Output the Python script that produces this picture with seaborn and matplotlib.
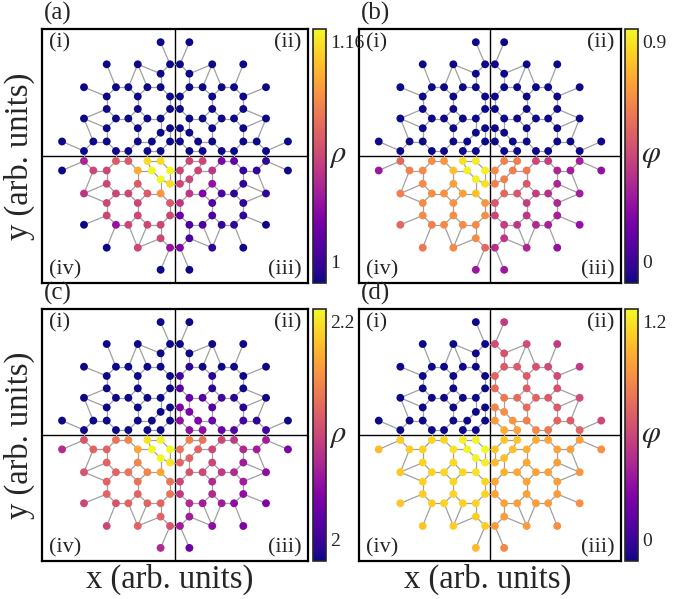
import numpy as np
import pandas as pd
import matplotlib
matplotlib.use('Agg')
import matplotlib.pyplot as plt
from matplotlib.collections import LineCollection
from matplotlib.colors import Normalize
import seaborn as sns

# node layout of one quadrant (arb. units), mirrored into the four quadrants
nodes = ['A',
         'B', 'C', 'D',
         'E',
         'F', 'G', 'H', 'I', 'J',
         'K', 'L', 'M',
         'N', 'O', 'P',
         'Q', 'R', 'S', 'T', 'U',
         'V', 'W', 'X',
         'Y',
         'Z1', 'Z2', 'Z3', 'Z4', 'Z5', 'Z6',
         'BB1', 'BB2', 'BB3', 'BB4', 'BB5']
node_x = [14.5,
          68.8, 37.5, 5,
          14.5,
          91.7, 59.5, 47, 27.8, 14.5,
          68.8, 37.5, 5,
          68.8, 37.5, 5,
          91.7, 59.5, 47, 27.8, 14.5,
          68.8, 37.5, 5,
          14.5,
          113.8, 82.3, 68.8, 37.5, 23.3, 5,
          91.7, 59.5, 47, 27.8, 14.5]
node_y = [113.8,
          91.7, 91.7, 91.7,
          82.3,
          68.8, 68.8, 68.8, 68.8, 68.8,
          59.5, 59.5, 59.5,
          47, 47, 47,
          37.5, 37.5, 37.5, 37.5, 37.5,
          27.8, 27.8, 27.8,
          23.3,
          14.5, 14.5, 14.5, 14.5, 14.5, 14.5,
          5, 5, 5, 5, 5]

edges = [('A', 'D'), ('B', 'G'), ('F', 'K'), ('Z1', 'BB1'),
         ('C', 'H'), ('C', 'I'), ('C', 'E'), ('D', 'E'), ('E', 'J'),
         ('Q', 'N'), ('Q', 'V'), ('Q', 'Z2'), ('BB1', 'Z2'), ('Z2', 'Z3'),
         ('G', 'H'), ('H', 'L'), ('L', 'O'), ('O', 'S'), ('S', 'R'), ('R', 'N'), ('N', 'K'), ('K', 'G'),
         ('I', 'J'), ('J', 'M'), ('M', 'P'), ('P', 'U'), ('U', 'T'), ('T', 'O'), ('L', 'I'),
         ('S', 'W'), ('W', 'Z4'), ('Z4', 'BB3'), ('BB3', 'BB2'), ('BB2', 'Z3'), ('Z3', 'V'), ('V', 'R'),
         ('U', 'Y'), ('Y', 'X'), ('X', 'Z6'), ('Z6', 'BB5'), ('BB5', 'BB4'), ('BB4', 'Z5'),
         ('Z5', 'Z4'), ('W', 'T'), ('Y', 'Z5')]
cross_h = ['D', 'M', 'P', 'X', 'Z6']          # links across the vertical line
cross_v = ['BB1', 'BB2', 'BB3', 'BB4', 'BB5']  # links across the horizontal line

quads = ['i', 'ii', 'iii', 'iv']
sign_x = {'i': -1, 'ii': 1, 'iii': 1, 'iv': -1}
sign_y = {'i': 1, 'ii': 1, 'iii': -1, 'iv': -1}

# ---- panel (a): rho ----
a_i = [1.00, 1.00, 1.00, 1.00, 1.00, 1.00, 1.00, 1.00, 1.00, 1.00, 1.00, 1.00,
       1.00, 1.00, 1.00, 1.00, 1.00, 1.00, 1.00, 1.00, 1.00, 1.00, 1.00, 1.00,
       1.00, 1.00, 1.00, 1.00, 1.00, 1.00, 1.00, 1.00, 1.00, 1.00, 1.00, 1.00]
a_ii = [1.00, 1.00, 1.00, 1.00, 1.00, 1.00, 1.00, 1.00, 1.00, 1.00, 1.00, 1.00,
        1.00, 1.00, 1.00, 1.00, 1.00, 1.00, 1.00, 1.00, 1.00, 1.00, 1.00, 1.00,
        1.00, 1.00, 1.00, 1.00, 1.00, 1.00, 1.00, 1.00, 1.00, 1.00, 1.00, 1.00]
a_iii = [1.00,
         1.00, 1.01, 1.04,
         1.02,
         1.00, 1.01, 1.01, 1.02, 1.02,
         1.01, 1.02, 1.03,
         1.01, 1.02, 1.07,
         1.01, 1.01, 1.02, 1.04, 1.07,
         1.01, 1.05, 1.08,
         1.08,
         1.00, 1.01, 1.01, 1.07, 1.08, 1.08,
         1.01, 1.03, 1.04, 1.08, 1.08]
a_iv = [1.00,
        1.00, 1.08, 1.05,
        1.08,
        1.00, 1.05, 1.08, 1.08, 1.08,
        1.08, 1.08, 1.08,
        1.08, 1.08, 1.09,
        1.07, 1.08, 1.08, 1.09, 1.12,
        1.08, 1.09, 1.15,
        1.16,
        1.00, 1.08, 1.08, 1.13, 1.16, 1.16,
        1.06, 1.09, 1.09, 1.15, 1.15]

# ---- panel (b): phi ----
b_i = [0.0, 0.0, 0.0, 0.0, 0.0, 0.0, 0.0, 0.0, 0.0, 0.0, 0.0, 0.0,
       0.0, 0.0, 0.0, 0.0, 0.0, 0.0, 0.0, 0.0, 0.0, 0.0, 0.0, 0.0,
       0.0, 0.0, 0.0, 0.0, 0.0, 0.0, 0.0, 0.0, 0.0, 0.0, 0.0, 0.0]
b_ii = [0.0, 0.0, 0.0, 0.0, 0.0, 0.0, 0.0, 0.0, 0.0, 0.0, 0.0, 0.0,
        0.0, 0.0, 0.0, 0.0, 0.0, 0.0, 0.0, 0.0, 0.0, 0.0, 0.0, 0.0,
        0.0, 0.0, 0.0, 0.0, 0.0, 0.0, 0.0, 0.0, 0.0, 0.0, 0.0, 0.0]
b_iii = [0.30,
         0.28, 0.35, 0.38,
         0.40,
         0.28, 0.33, 0.36, 0.40, 0.42,
         0.33, 0.40, 0.45,
         0.35, 0.42, 0.50,
         0.32, 0.38, 0.42, 0.50, 0.55,
         0.35, 0.50, 0.62,
         0.62,
         0.28, 0.32, 0.35, 0.60, 0.62, 0.65,
         0.32, 0.42, 0.45, 0.62, 0.62]
b_iv = [0.30,
        0.60, 0.65, 0.55,
        0.65,
        0.55, 0.62, 0.65, 0.65, 0.65,
        0.65, 0.66, 0.66,
        0.65, 0.67, 0.68,
        0.62, 0.66, 0.67, 0.70, 0.78,
        0.65, 0.70, 0.85,
        0.88,
        0.30, 0.62, 0.65, 0.78, 0.88, 0.88,
        0.55, 0.66, 0.68, 0.85, 0.87]

# ---- panel (c): rho ----
c_i = [2.00, 2.00, 2.00, 2.00, 2.00, 2.00, 2.00, 2.00, 2.00, 2.00, 2.00, 2.00,
       2.00, 2.00, 2.00, 2.00, 2.00, 2.00, 2.00, 2.00, 2.00, 2.00, 2.00, 2.00,
       2.00, 2.00, 2.00, 2.00, 2.00, 2.00, 2.00, 2.00, 2.00, 2.00, 2.00, 2.00]
c_ii = [2.00,
        2.00, 2.00, 2.00,
        2.00,
        2.00, 2.00, 2.00, 2.00, 2.01,
        2.00, 2.01, 2.02,
        2.00, 2.01, 2.03,
        2.00, 2.01, 2.02, 2.03, 2.04,
        2.01, 2.03, 2.05,
        2.05,
        2.00, 2.01, 2.02, 2.04, 2.05, 2.06,
        2.02, 2.03, 2.04, 2.06, 2.06]
c_iii = [2.04,
         2.05, 2.06, 2.07,
         2.07,
         2.05, 2.06, 2.07, 2.07, 2.08,
         2.06, 2.08, 2.09,
         2.07, 2.08, 2.10,
         2.06, 2.08, 2.09, 2.10, 2.11,
         2.07, 2.10, 2.12,
         2.12,
         2.05, 2.07, 2.08, 2.10, 2.12, 2.13,
         2.07, 2.09, 2.10, 2.13, 2.14]
c_iv = [2.08,
        2.10, 2.12, 2.11,
        2.12,
        2.10, 2.11, 2.12, 2.12, 2.12,
        2.12, 2.12, 2.13,
        2.12, 2.13, 2.13,
        2.11, 2.12, 2.13, 2.14, 2.16,
        2.12, 2.14, 2.19,
        2.20,
        2.08, 2.12, 2.12, 2.16, 2.20, 2.20,
        2.11, 2.13, 2.14, 2.19, 2.20]

# ---- panel (d): phi ----
d_i = [0.0, 0.0, 0.0, 0.0, 0.0, 0.0, 0.0, 0.0, 0.0, 0.0, 0.0, 0.0,
       0.0, 0.0, 0.0, 0.0, 0.0, 0.0, 0.0, 0.0, 0.0, 0.0, 0.0, 0.0,
       0.0, 0.0, 0.0, 0.0, 0.0, 0.0, 0.0, 0.0, 0.0, 0.0, 0.0, 0.0]
d_ii = [0.55,
        0.55, 0.62, 0.62,
        0.65,
        0.55, 0.62, 0.65, 0.68, 0.68,
        0.62, 0.68, 0.72,
        0.65, 0.70, 0.75,
        0.62, 0.68, 0.72, 0.75, 0.80,
        0.68, 0.75, 0.85,
        0.88,
        0.60, 0.68, 0.72, 0.82, 0.90, 0.92,
        0.72, 0.80, 0.85, 0.95, 0.98]
d_iii = [0.85,
         0.88, 0.92, 0.92,
         0.93,
         0.88, 0.92, 0.93, 0.94, 0.95,
         0.92, 0.94, 0.95,
         0.93, 0.95, 0.96,
         0.90, 0.94, 0.95, 0.97, 0.99,
         0.93, 0.97, 1.02,
         1.03,
         0.88, 0.93, 0.94, 0.99, 1.04, 1.05,
         0.94, 0.96, 0.98, 1.05, 1.06]
d_iv = [1.02,
        1.05, 1.08, 1.08,
        1.08,
        1.05, 1.08, 1.09, 1.09, 1.09,
        1.08, 1.09, 1.10,
        1.09, 1.10, 1.10,
        1.06, 1.09, 1.10, 1.11, 1.13,
        1.09, 1.11, 1.17,
        1.19,
        1.02, 1.08, 1.09, 1.14, 1.19, 1.20,
        1.08, 1.10, 1.11, 1.18, 1.19]

panels = [
    dict(tag='(a)', vals=[a_i, a_ii, a_iii, a_iv], vmin=1.0, vmax=1.16,
         ticklabels=['1', '1.16'], label=r'$\rho$',
         box=(42, 29, 308, 283), cbar=(313, 29, 326, 283)),
    dict(tag='(b)', vals=[b_i, b_ii, b_iii, b_iv], vmin=0.0, vmax=0.9,
         ticklabels=['0', '0.9'], label=r'$\varphi$',
         box=(359, 29, 621, 283), cbar=(625, 29, 638, 283)),
    dict(tag='(c)', vals=[c_i, c_ii, c_iii, c_iv], vmin=2.0, vmax=2.2,
         ticklabels=['2', '2.2'], label=r'$\rho$',
         box=(42, 309, 308, 561), cbar=(313, 309, 326, 561)),
    dict(tag='(d)', vals=[d_i, d_ii, d_iii, d_iv], vmin=0.0, vmax=1.2,
         ticklabels=['0', '1.2'], label=r'$\varphi$',
         box=(359, 309, 621, 561), cbar=(625, 309, 638, 561)),
]

sns.set_style('white')
plt.rcParams['font.family'] = ['Liberation Serif', 'DejaVu Serif']
plt.rcParams['mathtext.fontset'] = 'stix'

W, H = 688, 599
fig = plt.figure(figsize=(W / 100, H / 100), dpi=100)


def px_axes(box):
    l, t, r, b = box
    return fig.add_axes([l / W, 1 - b / H, (r - l) / W, (b - t) / H])


pos = {}
for q in quads:
    for k, n in enumerate(nodes):
        pos[(q, n)] = (sign_x[q] * node_x[k], sign_y[q] * node_y[k])

segs = []
for q in quads:
    for u, v in edges:
        segs.append([pos[(q, u)], pos[(q, v)]])
for n in cross_h:
    segs.append([pos[('i', n)], pos[('ii', n)]])
    segs.append([pos[('iv', n)], pos[('iii', n)]])
for n in cross_v:
    segs.append([pos[('i', n)], pos[('iv', n)]])
    segs.append([pos[('ii', n)], pos[('iii', n)]])

for p in panels:
    ax = px_axes(p['box'])
    ax.set_facecolor('none')
    rows = []
    for q, vals in zip(quads, p['vals']):
        for k, n in enumerate(nodes):
            x, y = pos[(q, n)]
            rows.append({'x': x, 'y': y, 'val': vals[k]})
    df = pd.DataFrame(rows)
    norm = Normalize(p['vmin'], p['vmax'])

    ax.add_collection(LineCollection(segs, colors='#a0a0a0', linewidths=0.9, zorder=1))
    ax.axhline(0, color='black', lw=1.0, zorder=0.5)
    ax.axvline(0, color='black', lw=1.0, zorder=0.5)
    sns.scatterplot(data=df, x='x', y='y', hue='val', palette='plasma', hue_norm=norm,
                    s=32, linewidth=0, legend=False, ax=ax, zorder=3)
    ax.set_xlim(-134, 134)
    ax.set_ylim(-127, 127)
    ax.set_xticks([])
    ax.set_yticks([])
    ax.set_xlabel('')
    ax.set_ylabel('')
    for sp in ax.spines.values():
        sp.set_linewidth(1.6)
        sp.set_color('black')

    kw = dict(transform=ax.transAxes, fontsize=16)
    ax.text(0.025, 0.985, '(i)', ha='left', va='top', **kw)
    ax.text(0.975, 0.985, '(ii)', ha='right', va='top', **kw)
    ax.text(0.975, 0.015, '(iii)', ha='right', va='bottom', **kw)
    ax.text(0.025, 0.015, '(iv)', ha='left', va='bottom', **kw)

    l, t, r, b = p['box']
    fig.text((l + 2) / W, 1 - (t - 16) / H, p['tag'], fontsize=18, ha='left', va='center')

    cax = px_axes(p['cbar'])
    sm = plt.cm.ScalarMappable(norm=norm, cmap='plasma')
    cb = fig.colorbar(sm, cax=cax)
    cb.set_ticks([])
    cb.outline.set_linewidth(1.2)
    cl, ct, cr, cbot = p['cbar']
    fig.text((cr + 4) / W, 1 - (cbot - 11) / H, p['ticklabels'][0], fontsize=14,
             ha='left', va='bottom')
    fig.text((cr + 4) / W, 1 - (ct + 6) / H, p['ticklabels'][1], fontsize=14,
             ha='left', va='top')
    cax.text(1.25, 0.5, p['label'], transform=cax.transAxes, fontsize=22,
             ha='left', va='center')

fig.text(19 / W, 1 - 156 / H, 'y (arb. units)', rotation=90, fontsize=23.5, ha='center', va='center')
fig.text(19 / W, 1 - 435 / H, 'y (arb. units)', rotation=90, fontsize=23.5, ha='center', va='center')
fig.text(170 / W, 1 - 579 / H, 'x (arb. units)', fontsize=23.5, ha='center', va='center')
fig.text(488 / W, 1 - 579 / H, 'x (arb. units)', fontsize=23.5, ha='center', va='center')

fig.savefig('out.png', dpi=100)
